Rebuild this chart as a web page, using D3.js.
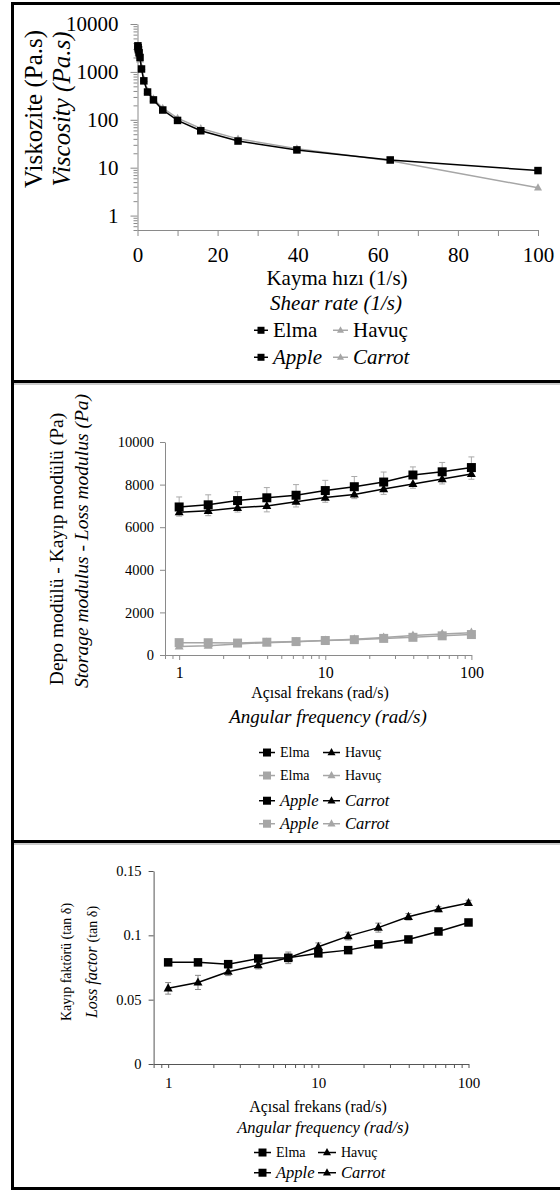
<!DOCTYPE html>
<meta charset="utf-8">
<head>
  <title>Viskozite / modül / kayıp faktörü</title>
</head>

<style>
body {
  margin: 0;
  background: #fff;
}
</style>

<body>
  <svg width="560" height="1191"></svg>

  <script src="https://cdnjs.cloudflare.com/ajax/libs/d3/7.8.5/d3.min.js"></script>

  <script>
// ---- data ----
// panel 1: viscosity vs shear rate
var shearRate = [0.1, 0.158, 0.251, 0.398, 0.631, 1, 1.58, 2.51, 3.98, 6.31, 10, 15.8, 25.1, 39.8, 63.1, 100];
var viscElma  = [3500, 3200, 2900, 2500, 2000, 1150, 650, 380, 260, 160, 97, 59, 36, 23.5, 14.5, 8.7];
var viscHavuc = [3000, 2800, 2500, 2200, 1800, 1250, 700, 400, 275, 175, 108, 66, 40, 25, 14, 3.8];
var viscTicks = [1, 10, 100, 1000, 10000];
var shearTicks = [0, 20, 40, 60, 80, 100];

// panel 2: storage (black) and loss (grey) modulus vs angular frequency
var freq = [1, 1.58, 2.51, 3.98, 6.31, 10, 15.8, 25.1, 39.8, 63.1, 100];
var storElma     = [6950, 7050, 7250, 7380, 7500, 7720, 7900, 8120, 8450, 8600, 8800];
var storElmaErr  = [470, 470, 420, 480, 500, 480, 480, 470, 380, 440, 500];
var storHavuc    = [6700, 6770, 6910, 7000, 7200, 7390, 7540, 7790, 8030, 8260, 8500];
var storHavucErr = [180, 230, 200, 280, 250, 220, 200, 250, 200, 230, 250];
var lossElma     = [580, 575, 560, 600, 630, 680, 720, 780, 830, 900, 960];
var lossElmaErr  = [40, 40, 40, 40, 40, 40, 40, 40, 50, 50, 50];
var lossHavuc    = [400, 440, 520, 580, 620, 680, 740, 820, 910, 990, 1050];
var lossHavucErr = [40, 40, 40, 40, 40, 40, 40, 40, 50, 50, 50];
var modTicks = [0, 2000, 4000, 6000, 8000, 10000];
var freqTicks = [1, 10, 100];

// panel 3: loss factor (tan d) vs angular frequency
var tanElma     = [0.079, 0.079, 0.0776, 0.082, 0.0825, 0.086, 0.0885, 0.093, 0.0968, 0.103, 0.110];
var tanElmaErr  = [0.0018, 0.0018, 0.0018, 0.0015, 0.0045, 0.0018, 0.0015, 0.0015, 0.0015, 0.0015, 0.0015];
var tanHavuc    = [0.0588, 0.0634, 0.0717, 0.0769, 0.0825, 0.0911, 0.0994, 0.106, 0.1144, 0.1203, 0.1252];
var tanHavucErr = [0.0045, 0.0055, 0.0030, 0.0030, 0.0030, 0.0030, 0.0030, 0.0035, 0.0025, 0.0020, 0.0020];
var tanTicks = [0, 0.05, 0.1, 0.15];
var tanTickLabels = ['0', '0.05', '0.1', '0.15'];

var BLACK = '#000';
var GREY = '#a6a6a6';
var FONT = 'Liberation Serif, serif';

var svg = d3.select('svg').attr('font-family', FONT);

// ---- helpers ----
function marker(g, type, x, y, s, color) {
  if (type === 'square') {
    g.append('rect')
      .attr('x', x - s / 2).attr('y', y - s / 2)
      .attr('width', s).attr('height', s)
      .attr('fill', color);
  } else {
    var h = s * 0.9;
    g.append('path')
      .attr('d', 'M' + x + ',' + (y - h * 0.62) + 'L' + (x + s / 2) + ',' + (y + h * 0.38) +
                 'L' + (x - s / 2) + ',' + (y + h * 0.38) + 'Z')
      .attr('fill', color);
  }
}

function series(g, xs, ys, errs, sx, sy, o) {
  var s = g.append('g');
  if (errs) {
    xs.forEach(function(x, i) {
      var px = sx(x), y0 = sy(ys[i]);
      var y1 = o.err === 'down' ? y0 : sy(ys[i] + errs[i]);
      var y2 = o.err === 'up' ? y0 : sy(ys[i] - errs[i]);
      s.append('line').attr('x1', px).attr('x2', px).attr('y1', y1).attr('y2', y2)
        .attr('stroke', o.errColor).attr('stroke-width', 1);
      if (o.err !== 'down')
        s.append('line').attr('x1', px - 3).attr('x2', px + 3).attr('y1', y1).attr('y2', y1)
          .attr('stroke', o.errColor).attr('stroke-width', 1);
      if (o.err !== 'up')
        s.append('line').attr('x1', px - 3).attr('x2', px + 3).attr('y1', y2).attr('y2', y2)
          .attr('stroke', o.errColor).attr('stroke-width', 1);
    });
  }
  var line = d3.line().x(function(d) { return sx(d[0]); }).y(function(d) { return sy(d[1]); });
  s.append('path')
    .attr('d', line(d3.zip(xs, ys)))
    .attr('fill', 'none')
    .attr('stroke', o.color)
    .attr('stroke-width', o.lw || 1.5);
  xs.forEach(function(x, i) {
    marker(s, o.type, sx(x), sy(ys[i]), o.size, o.color);
  });
}

function txt(g, x, y, fs, s, italic, anchor) {
  return g.append('text').attr('x', x).attr('y', y)
    .attr('font-family', FONT).attr('font-size', fs)
    .attr('font-style', italic ? 'italic' : 'normal')
    .attr('text-anchor', anchor || 'start')
    .attr('fill', '#000').text(s);
}

function legendItem(g, x, y, type, color, size, text, fs, italic, len) {
  var cy = y - fs * 0.32;
  g.append('line').attr('x1', x).attr('x2', x + len).attr('y1', cy).attr('y2', cy)
    .attr('stroke', color).attr('stroke-width', 1.5);
  marker(g, type, x + len / 2, cy, size, color);
  txt(g, x + len + 5, y, fs, text, italic);
}

function vtitle(g, x, y, fs, parts) {
  var t = g.append('text')
    .attr('transform', 'translate(' + x + ',' + y + ') rotate(-90)')
    .attr('text-anchor', 'middle')
    .attr('font-family', FONT)
    .attr('fill', '#000');
  parts.forEach(function(p) {
    t.append('tspan').attr('font-size', p.fs || fs)
      .attr('font-style', p.italic ? 'italic' : 'normal').text(p.t);
  });
}

function styleAxis(a, color, fs) {
  a.attr('font-family', FONT).attr('font-size', fs);
  a.select('.domain').attr('stroke', color);
  a.selectAll('.tick line').attr('stroke', color);
  a.selectAll('.tick text').attr('fill', '#000').attr('font-size', fs).attr('font-family', FONT);
}

function logMinors(lo, hi) {
  var out = [];
  for (var e = lo; e < hi; e++) {
    for (var k = 2; k <= 9; k++) out.push(k * Math.pow(10, e));
  }
  return out;
}

// ---- panel 1 ----
var p1 = svg.append('g');
var x1 = d3.scaleLinear().domain([0, 100]).range([137.5, 538]);
var y1 = d3.scaleLog().domain([0.5, 10000]).range([230, 24]);
var AX1 = '#8a8a8a';

var minor1 = [0.5, 0.6, 0.7, 0.8, 0.9].concat(logMinors(0, 4));
p1.append('g').attr('transform', 'translate(137.5,0)')
  .call(d3.axisLeft(y1).tickValues(minor1).tickSize(4).tickFormat(''))
  .call(function(a) { styleAxis(a, AX1, 21); a.select('.domain').remove(); });
p1.append('g').attr('transform', 'translate(137.5,0)')
  .call(d3.axisLeft(y1).tickValues(viscTicks).tickSize(7).tickSizeOuter(0).tickPadding(12)
    .tickFormat(d3.format('d')))
  .call(function(a) { styleAxis(a, AX1, 21); });

p1.append('g').attr('transform', 'translate(0,230)')
  .call(d3.axisBottom(x1).tickValues(d3.range(0, 101, 10)).tickSize(6).tickSizeOuter(0).tickPadding(11)
    .tickFormat(function(d) { return shearTicks.indexOf(d) >= 0 ? d : ''; }))
  .call(function(a) { styleAxis(a, AX1, 21); });

series(p1, shearRate, viscHavuc, null, x1, y1, {color: GREY, type: 'tri', size: 8, lw: 1.5});
series(p1, shearRate, viscElma, null, x1, y1, {color: BLACK, type: 'square', size: 7.5, lw: 1.5});

txt(p1, 337, 285, 21, 'Kayma hızı (1/s)', false, 'middle');
txt(p1, 336, 310, 21, 'Shear rate (1/s)', true, 'middle');

vtitle(p1, 42, 109, 25, [{t: 'Viskozite (Pa.s)'}]);
vtitle(p1, 70, 109, 25, [{t: 'Viscosity (Pa.s)', italic: true}]);

legendItem(p1, 254, 337, 'square', BLACK, 7, 'Elma', 21, false, 14);
legendItem(p1, 333, 337, 'tri', GREY, 7, 'Havuç', 21, false, 15);
legendItem(p1, 254, 364, 'square', BLACK, 7, 'Apple', 21, true, 14);
legendItem(p1, 333, 364, 'tri', GREY, 7, 'Carrot', 21, true, 15);

// ---- panel 2 ----
var p2 = svg.append('g');
var x2 = d3.scaleLog().domain([0.8, 100]).range([165, 471.4]);
var y2 = d3.scaleLinear().domain([0, 10000]).range([655, 442]);
var AX2 = '#8a8a8a';

p2.append('g').attr('transform', 'translate(165,0)')
  .call(d3.axisLeft(y2).tickValues(modTicks).tickSize(5).tickSizeOuter(0).tickPadding(6)
    .tickFormat(d3.format('d')))
  .call(function(a) { styleAxis(a, AX2, 14.5); });

var minor2 = [0.8, 0.9].concat(logMinors(0, 2));
p2.append('g').attr('transform', 'translate(0,655)')
  .call(d3.axisBottom(x2).tickValues(minor2).tickSize(4).tickFormat(''))
  .call(function(a) { styleAxis(a, AX2, 16); a.select('.domain').remove(); });
p2.append('g').attr('transform', 'translate(0,655)')
  .call(d3.axisBottom(x2).tickValues(freqTicks).tickSize(5).tickSizeOuter(0).tickPadding(7)
    .tickFormat(d3.format('d')))
  .call(function(a) { styleAxis(a, AX2, 16); });

series(p2, freq, lossHavuc, lossHavucErr, x2, y2, {color: GREY, type: 'tri', size: 9, err: 'both', errColor: '#bbb'});
series(p2, freq, lossElma, lossElmaErr, x2, y2, {color: GREY, type: 'square', size: 9, err: 'both', errColor: '#bbb'});
series(p2, freq, storHavuc, storHavucErr, x2, y2, {color: BLACK, type: 'tri', size: 9, err: 'down', errColor: '#aaa'});
series(p2, freq, storElma, storElmaErr, x2, y2, {color: BLACK, type: 'square', size: 9, err: 'up', errColor: '#aaa'});

txt(p2, 320, 698, 16, 'Açısal frekans (rad/s)', false, 'middle');
txt(p2, 328, 723, 19, 'Angular frequency (rad/s)', true, 'middle');

vtitle(p2, 63, 549, 19.5, [{t: 'Depo modülü - Kayıp modülü (Pa)'}]);
vtitle(p2, 88, 541, 19.5, [{t: 'Storage modulus - Loss modulus (Pa)', italic: true}]);

legendItem(p2, 259, 757, 'square', BLACK, 8, 'Elma', 14, false, 16);
legendItem(p2, 323, 757, 'tri', BLACK, 8, 'Havuç', 14, false, 17);
legendItem(p2, 259, 780, 'square', GREY, 8, 'Elma', 14, false, 16);
legendItem(p2, 323, 780, 'tri', GREY, 8, 'Havuç', 14, false, 17);
legendItem(p2, 259, 806, 'square', BLACK, 8, 'Apple', 16.5, true, 16);
legendItem(p2, 323, 806, 'tri', BLACK, 8, 'Carrot', 16.5, true, 17);
legendItem(p2, 259, 829, 'square', GREY, 8, 'Apple', 16.5, true, 16);
legendItem(p2, 323, 829, 'tri', GREY, 8, 'Carrot', 16.5, true, 17);

// ---- panel 3 ----
var p3 = svg.append('g');
var x3 = d3.scaleLog().domain([0.8, 100]).range([153.6, 468.5]);
var y3 = d3.scaleLinear().domain([0, 0.15]).range([1064, 871]);
var AX3 = '#555';

p3.append('g').attr('transform', 'translate(153.6,0)')
  .call(d3.axisLeft(y3).tickValues(tanTicks).tickSize(5).tickSizeOuter(0).tickPadding(7)
    .tickFormat(function(d, i) { return tanTickLabels[i]; }))
  .call(function(a) { styleAxis(a, AX3, 14.5); });

var minor3 = [0.8, 0.9].concat(logMinors(0, 2));
p3.append('g').attr('transform', 'translate(0,1064)')
  .call(d3.axisBottom(x3).tickValues(minor3).tickSize(4).tickFormat(''))
  .call(function(a) { styleAxis(a, AX3, 15); a.select('.domain').remove(); });
p3.append('g').attr('transform', 'translate(0,1064)')
  .call(d3.axisBottom(x3).tickValues(freqTicks).tickSize(4).tickSizeOuter(0).tickPadding(9)
    .tickFormat(d3.format('d')))
  .call(function(a) { styleAxis(a, AX3, 15); });

series(p3, freq, tanHavuc, tanHavucErr, x3, y3, {color: BLACK, type: 'tri', size: 9, err: 'both', errColor: '#888'});
series(p3, freq, tanElma, tanElmaErr, x3, y3, {color: BLACK, type: 'square', size: 8.5, err: 'both', errColor: '#888'});

txt(p3, 318, 1112, 16, 'Açısal frekans (rad/s)', false, 'middle');
txt(p3, 323, 1133, 16.5, 'Angular frequency (rad/s)', true, 'middle');

vtitle(p3, 71, 962, 14, [{t: 'Kayıp faktörü  (tan δ)'}]);
vtitle(p3, 97, 962, 15, [{t: 'Loss factor ', italic: true, fs: 16}, {t: ' (tan δ)', fs: 14}]);

legendItem(p3, 254, 1157, 'square', BLACK, 8, 'Elma', 14, false, 17);
legendItem(p3, 318, 1157, 'tri', BLACK, 8, 'Havuç', 14, false, 18);
legendItem(p3, 254, 1178, 'square', BLACK, 8, 'Apple', 16.5, true, 17);
legendItem(p3, 318, 1178, 'tri', BLACK, 8, 'Carrot', 16.5, true, 18);

// ---- panel frames ----
var frame = svg.append('g').attr('fill', 'none');
frame.append('rect').attr('x', 12.5).attr('y', 3.5).attr('width', 560).attr('height', 1185)
  .attr('stroke', '#000').attr('stroke-width', 3);
[381.5, 841.5].forEach(function(y) {
  frame.append('line').attr('x1', 12).attr('x2', 560).attr('y1', y).attr('y2', y)
    .attr('stroke', '#000').attr('stroke-width', 3);
  frame.append('line').attr('x1', 14).attr('x2', 560).attr('y1', y + 2.5).attr('y2', y + 2.5)
    .attr('stroke', '#999').attr('stroke-width', 1);
});
  </script>
</body>
</html>
